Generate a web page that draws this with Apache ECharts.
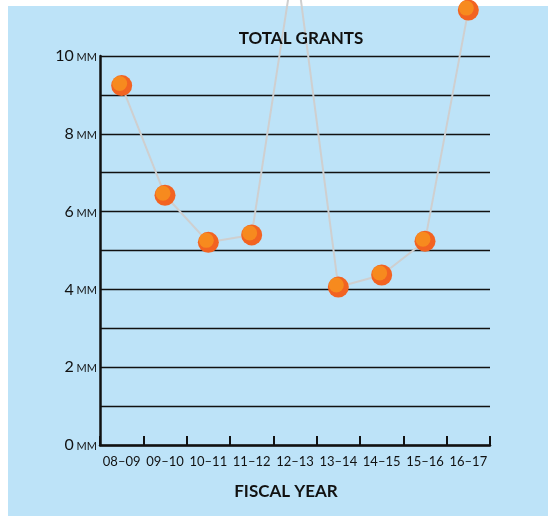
<!DOCTYPE html>
<html><head><meta charset="utf-8">
<script src="https://cdn.jsdelivr.net/npm/echarts@6/dist/echarts.min.js"></script>
<style>html,body{margin:0;padding:0;background:#fff;}#c{width:548px;height:516px;}</style>
</head><body><div id="c"></div>
<script>
var categories = ['08–09','09–10','10–11','11–12','12–13','13–14','14–15','15–16','16–17'];
var grants = [9.24, 6.42, 5.21, 5.40, 12.6, 4.06, 4.37, 5.24, 11.18];
var yTicks = [0, 2, 4, 6, 8, 10];

var chart = echarts.init(document.getElementById('c'), null, {renderer:'canvas'});
var font = 'Lato, "Open Sans", sans-serif';
chart.setOption({
  animation: false,
  backgroundColor: '#fff',
  graphic: [{type:'rect', left: 8, top: 6, shape:{width:540, height:510}, style:{fill:'#BDE3F8'}, z:-10, silent:true}],
  title: [
    {text:'TOTAL GRANTS', left: 296, top: 25, textAlign:'center', textStyle:{fontFamily:font, fontSize:17, fontWeight:'bold', color:'#111'}},
    {text:'FISCAL YEAR', left: 281, top: 478, textAlign:'center', textStyle:{fontFamily:font, fontSize:17, fontWeight:'bold', color:'#111'}}
  ],
  grid: {left:100, right:58, top:56, bottom:71},
  xAxis: {
    type:'category', data: categories, boundaryGap:true,
    axisLine:{lineStyle:{color:'#111', width:2.5}},
    axisTick:{show:true, inside:true, length:9, lineStyle:{color:'#111', width:2}},
    axisLabel:{fontFamily:font, fontSize:13, color:'#111', margin:10, interval:0}
  },
  yAxis: {
    type:'value', min:0, max:10, interval:1,
    axisLine:{show:true, lineStyle:{color:'#111', width:2.5}},
    axisTick:{show:false},
    splitLine:{lineStyle:{color:'#111', width:1.3}},
    axisLabel:{
      margin:3,
      formatter:function(v){ return yTicks.indexOf(v) >= 0 ? '{n|' + v + '}{u| MM}' : ''; },
      rich:{n:{fontFamily:font, fontSize:16, color:'#111'}, u:{fontFamily:font, fontSize:11, color:'#111', padding:[3,0,0,0]}}
    }
  },
  series: [
    {type:'line', data: grants, clip:false, symbol:'circle', symbolSize:21,
     lineStyle:{color:'#CFCFCF', width:2}, itemStyle:{color:'#F26322', borderWidth:0}, z:3},
    {type:'scatter', data: grants, clip:false, symbol:'circle', symbolSize:15, symbolOffset:[-2,-2],
     itemStyle:{color:'#F7941E'}, z:4}
  ]
});
</script></body></html>
